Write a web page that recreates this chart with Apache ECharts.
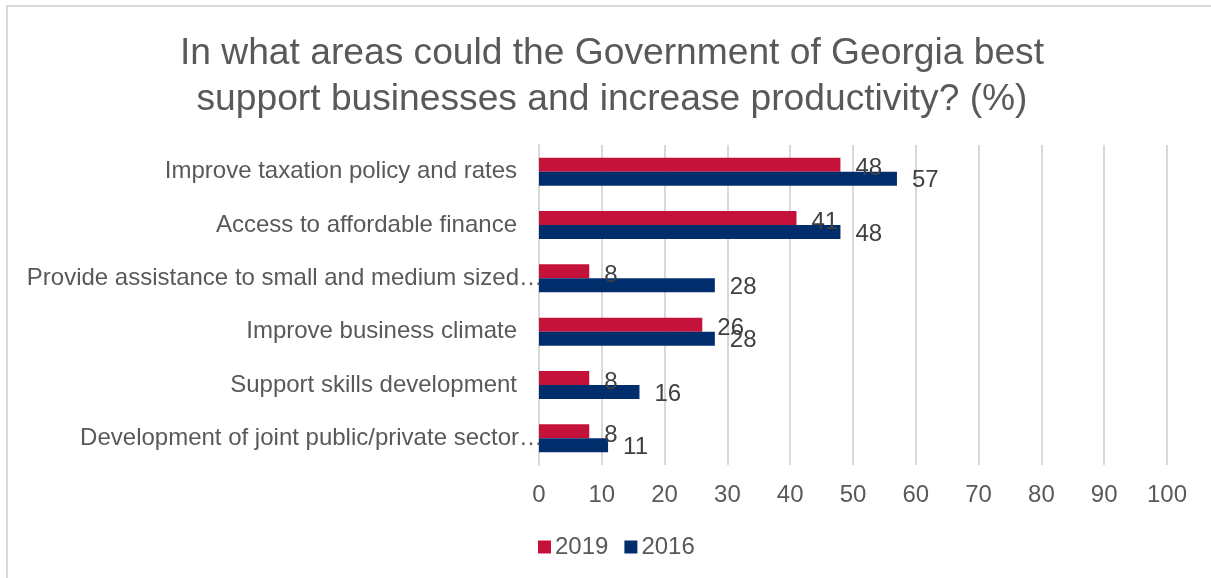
<!DOCTYPE html>
<html>
<head>
<meta charset="utf-8">
<script src="https://cdn.jsdelivr.net/npm/echarts@6/dist/echarts.min.js"></script>
<style>
  html, body { margin: 0; padding: 0; background: #ffffff; }
  #chart { width: 1211px; height: 578px; }
</style>
</head>
<body>
<div id="chart"></div>
<script>
// Survey answers, share of respondents (%)
const categories = [
  'Improve taxation policy and rates',
  'Access to affordable finance',
  'Provide assistance to small and medium sized\u2026',
  'Improve business climate',
  'Support skills development',
  'Development of joint public/private sector\u2026'
];
const values2019 = [48, 41, 8, 26, 8, 8];
const values2016 = [57, 48, 28, 28, 16, 11];
const xTicks = { min: 0, max: 100, interval: 10 };

const FONT = '"Liberation Sans", Arial, sans-serif';
const TEXT = '#595959';
const GRID = '#d9d9d9';

const chart = echarts.init(document.getElementById('chart'), null, { renderer: 'canvas' });

function valueLabel(dy) {
  return {
    show: true,
    position: 'right',
    distance: 15,
    offset: [0, dy],
    fontSize: 24,
    fontFamily: FONT,
    color: '#404040'
  };
}

chart.setOption({
  backgroundColor: '#ffffff',
  animation: false,
  graphic: [{
    type: 'rect',
    shape: { x: 7, y: 6, width: 1240, height: 620 },
    style: { fill: 'none', stroke: GRID, lineWidth: 2 },
    silent: true,
    z: -1
  }],
  title: {
    text: 'In what areas could the Government of Georgia best\nsupport businesses and increase productivity? (%)',
    left: 607,
    top: 26,
    textAlign: 'center',
    textStyle: {
      fontFamily: FONT,
      fontSize: 37.2,
      lineHeight: 46,
      fontWeight: 'normal',
      color: TEXT
    }
  },
  legend: {
    left: 533,
    top: 530,
    icon: 'rect',
    itemWidth: 13,
    itemHeight: 13,
    itemGap: 16,
    textStyle: { fontFamily: FONT, fontSize: 24, color: TEXT, padding: [0, 0, 0, -1] },
    data: ['2019', '2016']
  },
  grid: { left: 539, right: 44, top: 145, bottom: 113, containLabel: false },
  xAxis: {
    type: 'value',
    min: xTicks.min,
    max: xTicks.max,
    interval: xTicks.interval,
    axisLine: { show: false },
    axisTick: { show: false },
    splitLine: { show: true, lineStyle: { color: GRID, width: 2 } },
    axisLabel: { fontFamily: FONT, fontSize: 24, color: TEXT, margin: 18 }
  },
  yAxis: {
    type: 'category',
    inverse: true,
    data: categories,
    axisLine: { show: true, lineStyle: { color: GRID, width: 2 } },
    axisTick: { show: false },
    axisLabel: {
      margin: -4,
      formatter: function (v) {
        // shortened names run up to the axis; full names keep a gap before it
        return v.endsWith('\u2026') ? '{n|' + v + '}' : '{n|' + v + '}{s|}';
      },
      rich: {
        n: { fontFamily: FONT, fontSize: 24, color: TEXT },
        s: { width: 26 }
      }
    }
  },
  series: [
    {
      name: '2019',
      type: 'bar',
      data: values2019,
      barWidth: 14,
      barGap: '0%',
      itemStyle: { color: '#c4123a' },
      label: valueLabel(4)
    },
    {
      name: '2016',
      type: 'bar',
      data: values2016,
      barWidth: 14,
      barGap: '0%',
      itemStyle: { color: '#002e6d' },
      label: valueLabel(2)
    }
  ]
});
</script>
</body>
</html>
